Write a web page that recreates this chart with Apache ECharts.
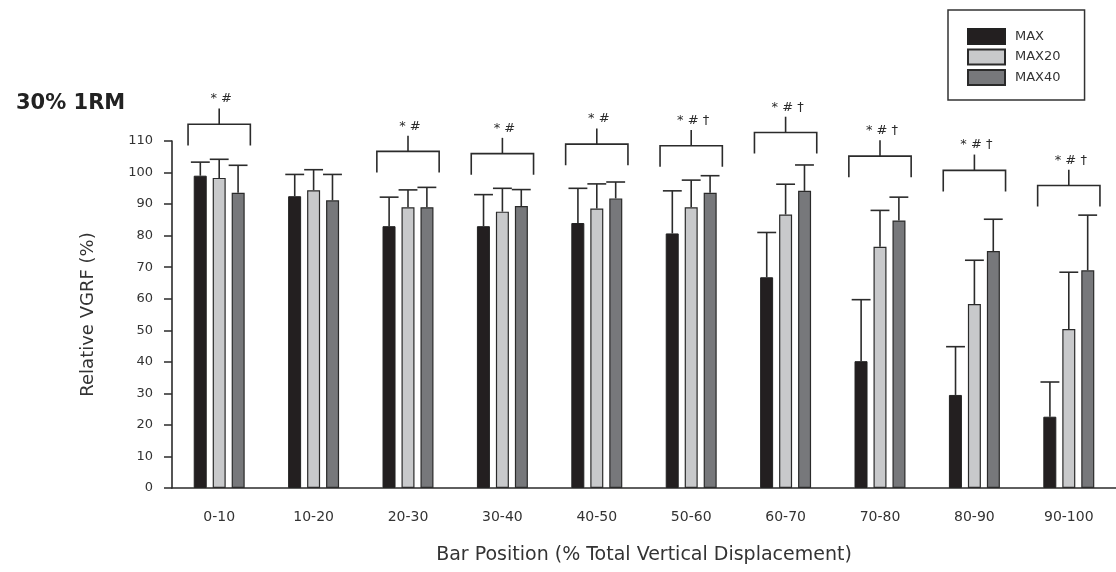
<!DOCTYPE html>
<html lang="en">
<head>
<meta charset="UTF-8">
<title>30% 1RM - Relative VGRF</title>
<style type="text/css">
  html, body { margin: 0; padding: 0; background: #fff; }
  #chart { width: 1116px; height: 572px; }
</style>
<script src="https://cdn.jsdelivr.net/npm/echarts@6/dist/echarts.min.js"></script>
</head>
<body>
<div id="chart"></div>
<script type="text/javascript">
// bar position bins
var categories = ['0-10', '10-20', '20-30', '30-40', '40-50', '50-60', '60-70', '70-80', '80-90', '90-100'];
// mean relative VGRF (%)
var maxValues   = [99, 92.5, 83, 83, 84, 80.7, 66.8, 40.2, 29.5, 22.6];
var max20Values = [98.3, 94.4, 89, 87.6, 88.6, 89, 86.7, 76.5, 58.3, 50.4];
var max40Values = [93.6, 91.2, 89, 89.4, 91.8, 93.6, 94.2, 84.8, 75.1, 69];
// top of the error bar (mean + SD)
var maxErrTop   = [103.3, 99.4, 92.2, 93, 95, 94.2, 81, 59.7, 44.8, 33.6];
var max20ErrTop = [104.2, 100.9, 94.5, 95, 96.4, 97.6, 96.3, 88, 72.2, 68.4];
var max40ErrTop = [102.3, 99.4, 95.3, 94.6, 97, 99, 102.4, 92.2, 85.2, 86.5];
// significance brackets: level of the horizontal line and the marks above it
var bracketLevel = [115.3, null, 106.7, 106, 109, 108.5, 112.7, 105.2, 100.7, 95.9];
var bracketMarks = ['* #', '', '* #', '* #', '* #', '* # \u2020', '* # \u2020', '* # \u2020', '* # \u2020', '* # \u2020'];

var FONT = 'DejaVu Sans';
var INK = '#2b2b2b';

function errData(vals, tops) {
    var out = [];
    for (var i = 0; i < vals.length; i++) {
        out.push([i, tops[i], vals[i]]);
    }
    return out;
}

// shift is the bar slot: -1, 0, 1
function errRender(shift) {
    return function (params, api) {
        var band = api.size([1, 0])[0];
        var dx = shift * band * 0.2;
        var top = api.coord([api.value(0), api.value(1)]);
        var base = api.coord([api.value(0), api.value(2)]);
        var x = top[0] + dx;
        var half = band * 0.1;
        var st = { stroke: INK, lineWidth: 1.6 };
        return {
            type: 'group',
            children: [
                { type: 'line', shape: { x1: x, y1: base[1], x2: x, y2: top[1] }, style: st },
                { type: 'line', shape: { x1: x - half, y1: top[1], x2: x + half, y2: top[1] }, style: st }
            ]
        };
    };
}

var bracketData = [];
for (var i = 0; i < categories.length; i++) {
    if (bracketLevel[i] != null) {
        bracketData.push([i, bracketLevel[i], bracketMarks[i]]);
    }
}

function bracketRender(params, api) {
    var band = api.size([1, 0])[0];
    var p = api.coord([api.value(0), api.value(1)]);
    var half = band * 0.33;
    var leg = api.size([0, 6.7])[1];
    var stem = api.size([0, 5])[1];
    var st = { stroke: INK, lineWidth: 1.6 };
    var label = bracketData[params.dataIndex][2];
    return {
        type: 'group',
        children: [
            { type: 'polyline', shape: { points: [[p[0] - half, p[1] + leg], [p[0] - half, p[1]], [p[0] + half, p[1]], [p[0] + half, p[1] + leg]] }, style: { stroke: INK, lineWidth: 1.6, fill: null } },
            { type: 'line', shape: { x1: p[0], y1: p[1], x2: p[0], y2: p[1] - stem }, style: st },
            { type: 'text', x: p[0] + 2, y: p[1] - stem - 3,
              style: { text: label, fill: INK, font: '13px ' + FONT, align: 'center', verticalAlign: 'bottom' } }
        ]
    };
}

var chart = echarts.init(document.getElementById('chart'));
var option = {
    animation: false,
    backgroundColor: '#fff',
    title: {
        text: '30% 1RM',
        left: 11,
        top: 88,
        textStyle: { fontFamily: FONT, fontSize: 21, fontWeight: 'bold', color: '#222' }
    },
    legend: {
        data: ['MAX', 'MAX20', 'MAX40'],
        orient: 'vertical',
        left: 948,
        top: 10,
        icon: 'rect',
        itemWidth: 37,
        itemHeight: 15,
        itemGap: 3.5,
        padding: [18, 24, 14, 19],
        borderColor: '#333',
        borderWidth: 1.5,
        textStyle: { fontFamily: FONT, fontSize: 13, color: '#333', padding: [0, 0, 0, 5] }
    },
    grid: { left: 172, right: -11, top: 141, bottom: 84 },
    xAxis: {
        type: 'category',
        data: categories,
        name: 'Bar Position (% Total Vertical Displacement)',
        nameLocation: 'middle',
        nameGap: 58,
        nameTextStyle: { fontFamily: FONT, fontSize: 19, color: '#333' },
        axisLine: { lineStyle: { color: INK, width: 1.6 } },
        axisTick: { alignWithLabel: true, length: 6, lineStyle: { color: INK, width: 1.5 } },
        axisLabel: { fontFamily: FONT, fontSize: 14, color: '#333', margin: 22 }
    },
    yAxis: {
        type: 'value',
        min: 0,
        max: 110,
        interval: 10,
        name: 'Relative VGRF (%)',
        nameLocation: 'middle',
        nameGap: 75,
        nameTextStyle: { fontFamily: FONT, fontSize: 18, color: '#333' },
        axisLine: { show: true, lineStyle: { color: INK, width: 1.6 } },
        axisTick: { show: true, length: 8, lineStyle: { color: INK, width: 1.5 } },
        axisLabel: { fontFamily: FONT, fontSize: 13, color: '#333', margin: 19 },
        splitLine: { show: false }
    },
    series: [
        { name: 'MAX', type: 'bar', data: maxValues, barWidth: 13, barGap: '46%',
          itemStyle: { color: '#231f20', borderColor: '#222', borderWidth: 1 } },
        { name: 'MAX20', type: 'bar', data: max20Values, barWidth: 13, barGap: '46%',
          itemStyle: { color: '#c8c9cb', borderColor: '#2a2a2a', borderWidth: 1.2 } },
        { name: 'MAX40', type: 'bar', data: max40Values, barWidth: 13, barGap: '46%',
          itemStyle: { color: '#77787b', borderColor: '#2a2a2a', borderWidth: 1.2 } },
        { type: 'custom', renderItem: errRender(-1), data: errData(maxValues, maxErrTop), silent: true, z: 1 },
        { type: 'custom', renderItem: errRender(0), data: errData(max20Values, max20ErrTop), silent: true, z: 1 },
        { type: 'custom', renderItem: errRender(1), data: errData(max40Values, max40ErrTop), silent: true, z: 1 },
        { type: 'custom', renderItem: bracketRender, data: bracketData, silent: true, clip: false }
    ]
};
chart.setOption(option);
</script>
</body>
</html>
